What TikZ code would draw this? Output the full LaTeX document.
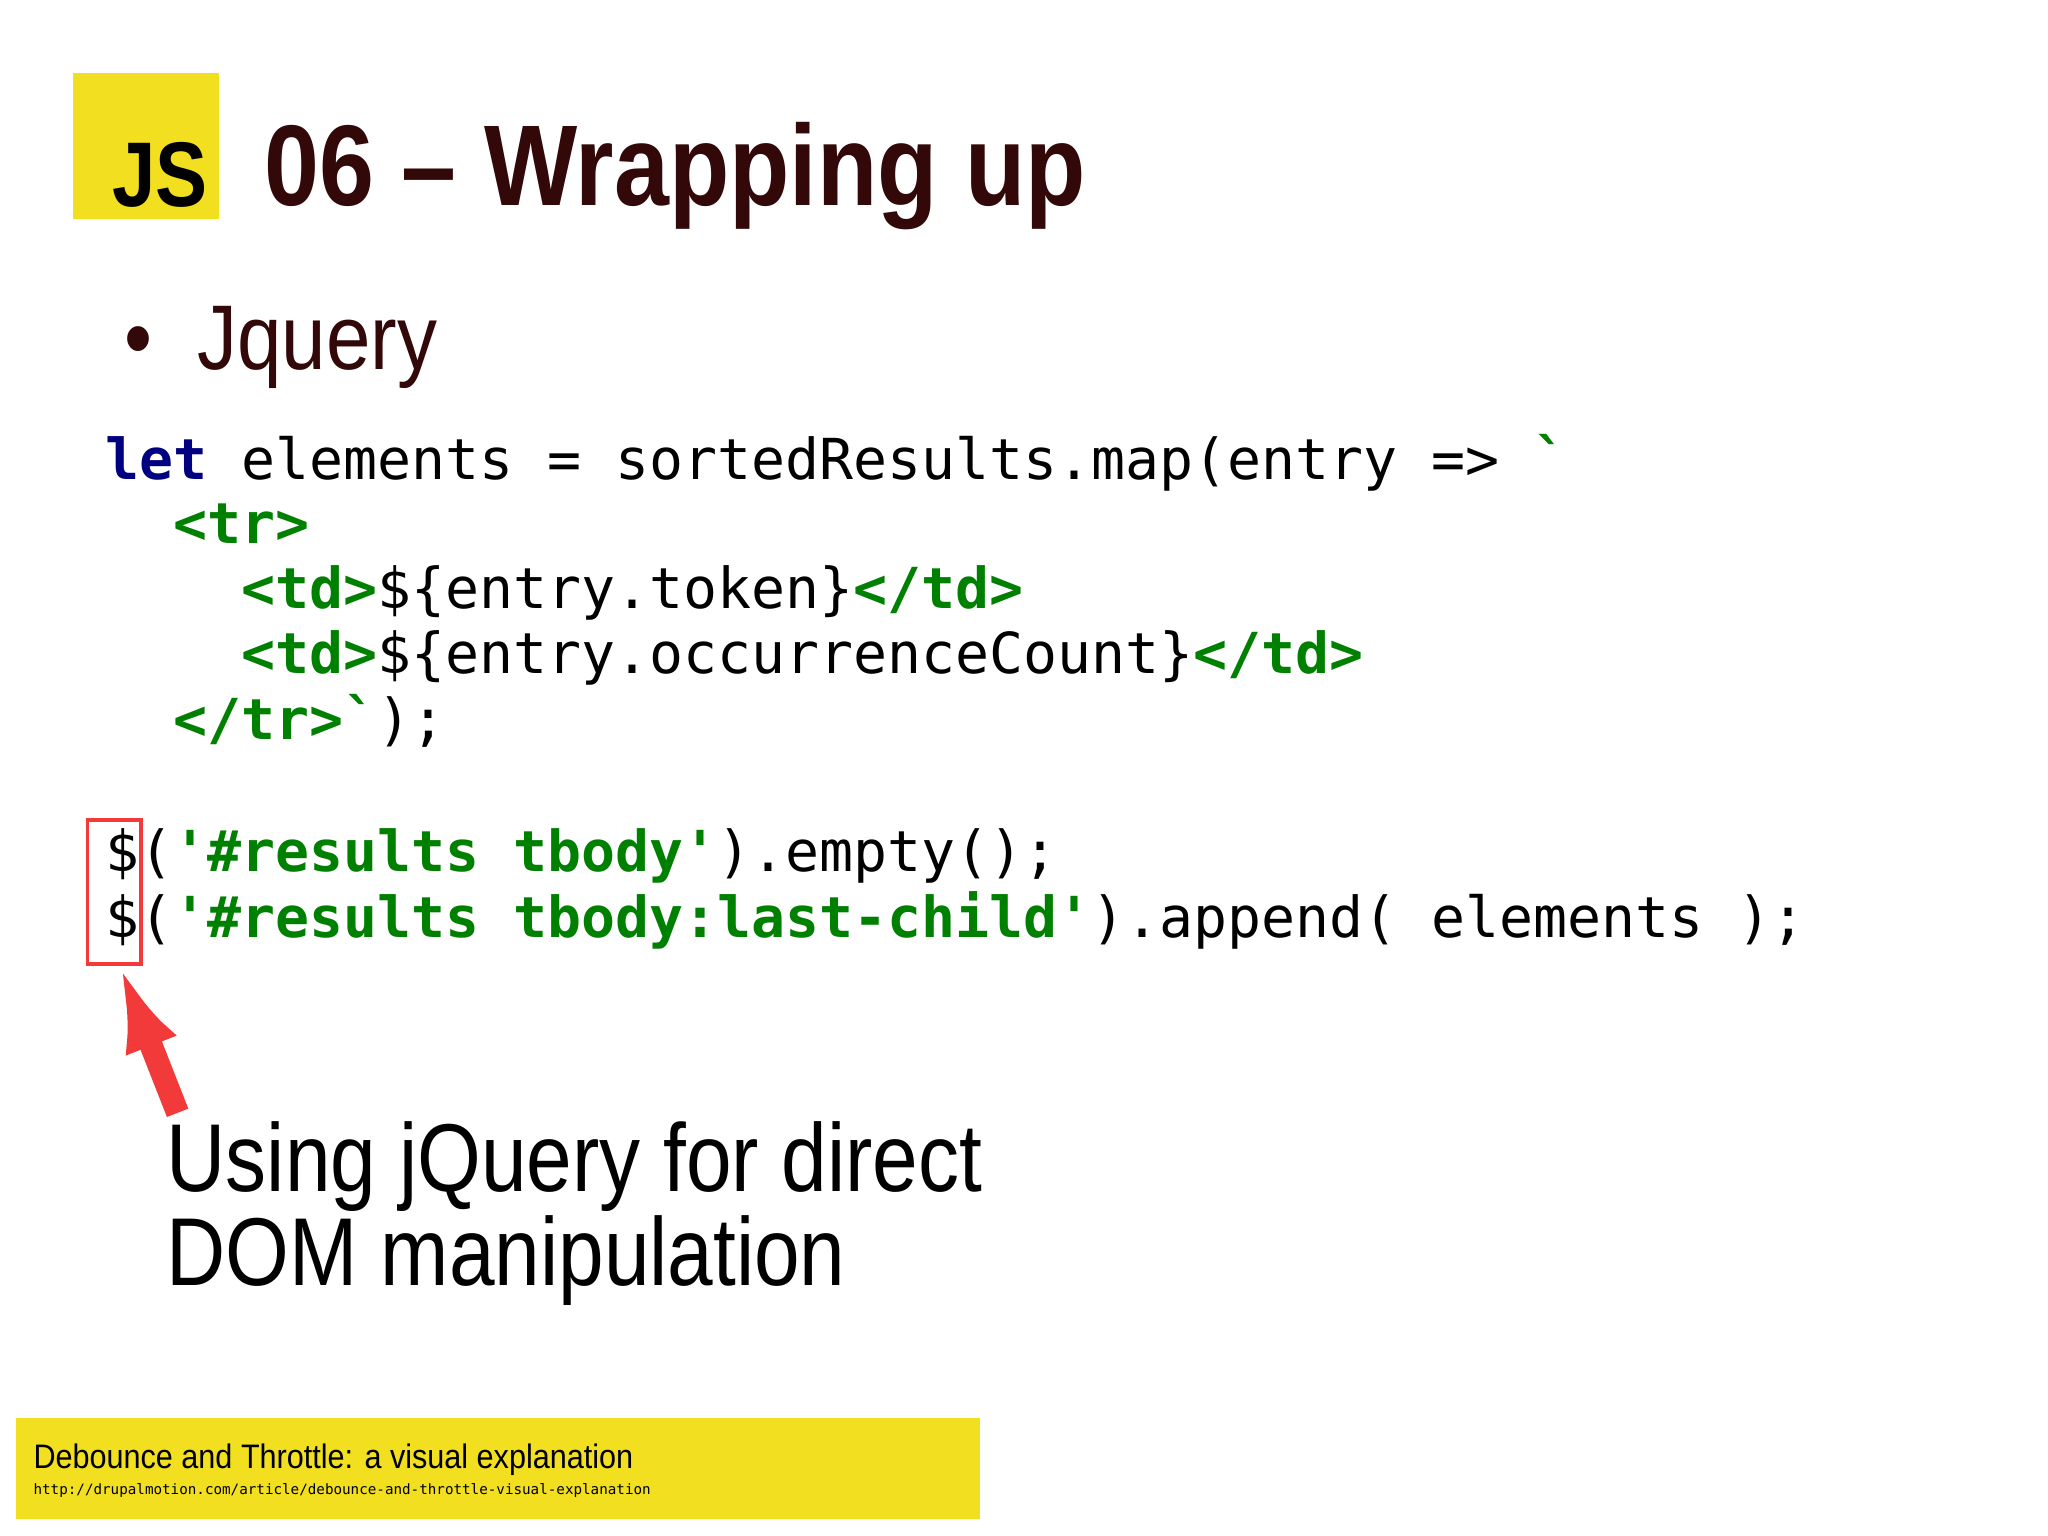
\documentclass[tikz,border=0pt]{standalone}
\usepackage{fontspec}
\usetikzlibrary{arrows.meta}
\setmainfont{Liberation Sans}
\newfontfamily\codefont{DejaVu Sans Mono}
\definecolor{jsy}{HTML}{F2DF1F}
\definecolor{ttl}{HTML}{330808}
\definecolor{kw}{HTML}{000080}
\definecolor{gr}{HTML}{008000}
\definecolor{arr}{HTML}{F23A3A}
\tikzset{code/.style={anchor=base west,inner sep=0,font=\codefont\fontsize{12.3}{14}\selectfont}}
\newcommand{\G}[1]{\textcolor{gr}{\bfseries #1}}
\begin{document}
\begin{tikzpicture}[x=0.01cm,y=-0.01cm]
\useasboundingbox[fill=white] (0,0) rectangle (1568,1176);
\fill[jsy] (56,56) rectangle (168,168);
\node[anchor=base east,inner sep=0,font=\bfseries\fontsize{20}{22}\selectfont] (js) at (160,158) {\scalebox{0.85}[1]{JS}};
\node[anchor=base west,inner sep=0,text=ttl,font=\bfseries\fontsize{25}{30}\selectfont] (title) at (202,157) {\scalebox{0.86}[1]{06 -- Wrapping up}};
\node[anchor=base west,inner sep=0,text=ttl,font=\fontsize{20}{24}\selectfont] (b) at (95,283) {\scalebox{0.87}[1]{\textbullet\ \ Jquery}};
\node[code] (l1) at (80,367) {\textcolor{kw}{\bfseries let} elements = sortedResults.map(entry => \G{`}};
\node[code] (l2) at (80,416) {\phantom{xx}\G{<tr>}};
\node[code] (l3) at (80,466) {\phantom{xxxx}\G{<td>}\$\{entry.token\}\G{</td>}};
\node[code] (l4) at (80,516) {\phantom{xxxx}\G{<td>}\$\{entry.occurrenceCount\}\G{</td>}};
\node[code] (l5) at (80,566) {\phantom{xx}\G{</tr>`});};
\node[code] (l6) at (80,667) {\$(\G{'\#results tbody'}).empty();};
\node[code] (l7) at (80,718) {\$(\G{'\#results tbody:last-child'}).append( elements );};
\draw[arr,line width=0.8pt] (67,628) rectangle (108,738);
\coordinate (dol) at (92,740);
\coordinate (tail) at (136,852);
\draw[arr,line width=5pt,-{Latex[length=0.65cm,width=0.42cm]}] (tail) -- (dol);
\node[anchor=north west,inner sep=0,align=left,font=\fontsize{21}{20.5}\selectfont] (note) at (127,858) {\scalebox{0.85}[1]{Using jQuery for direct}\\\scalebox{0.85}[1]{DOM manipulation}};
\fill[jsy] (12,1086) rectangle (750,1163);
\node[anchor=base west,inner sep=0,font=\fontsize{7.4}{9}\selectfont] (src) at (25,1124) {\scalebox{0.9}[1]{Debounce and Throttle: a visual explanation}};
\node[anchor=base west,inner sep=0,font=\codefont\fontsize{3.1}{4}\selectfont] (url) at (25,1144) {http://drupalmotion.com/article/debounce-and-throttle-visual-explanation};
\end{tikzpicture}
\end{document}
